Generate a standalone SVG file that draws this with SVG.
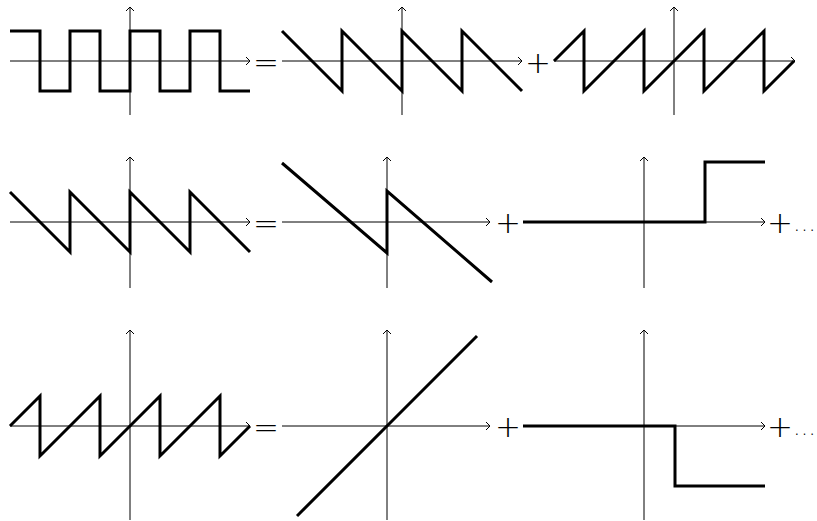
<svg xmlns="http://www.w3.org/2000/svg" width="817" height="521" viewBox="0 0 817 521">
<defs>
<marker id="arr" markerWidth="10" markerHeight="10" refX="0" refY="0" viewBox="-6 -5 8 10" markerUnits="userSpaceOnUse" orient="auto" overflow="visible">
<path d="M-4,-4 L0,0 L-4,4" fill="none" stroke="#000" stroke-width="1"/>
</marker>
</defs>
<style>
.ax{stroke:#000;stroke-width:1;fill:none;marker-end:url(#arr)}
.f{stroke:#000;stroke-width:3;fill:none;stroke-linejoin:miter}
.op{font-family:"DejaVu Sans","Liberation Sans",sans-serif;font-weight:200;font-size:31px;fill:#000;text-anchor:middle}
.dots{font-family:"DejaVu Sans","Liberation Sans",sans-serif;font-weight:200;font-size:23px;fill:#000}
</style>
<rect width="817" height="521" fill="#fff"/>

<g id="r1-square">
<line class="ax" x1="10" y1="61" x2="250" y2="61"/>
<line class="ax" x1="130" y1="115" x2="130" y2="7"/>
<path class="f" d="M10,31 H40 V91 H70 V31 H100 V91 H130 V31 H160 V91 H190 V31 H220 V91 H250"/>
</g>
<g id="r1-sawdown">
<line class="ax" x1="282" y1="61" x2="522" y2="61"/>
<line class="ax" x1="402" y1="115" x2="402" y2="7"/>
<path class="f" d="M282,31 L342,91 V31 L402,91 V31 L462,91 V31 L522,91"/>
</g>
<g id="r1-sawup">
<line class="ax" x1="554" y1="61" x2="795" y2="61"/>
<line class="ax" x1="674" y1="115" x2="674" y2="7"/>
<path class="f" d="M554,61 L584,31 V91 L644,31 V91 L704,31 V91 L764,31 V91 L794,61"/>
</g>

<g id="r2-saw">
<line class="ax" x1="10" y1="222" x2="250" y2="222"/>
<line class="ax" x1="130" y1="288" x2="130" y2="157"/>
<path class="f" d="M10,192 L70,252 V192 L130,252 V192 L190,252 V192 L250,252"/>
</g>
<g id="r2-single">
<line class="ax" x1="282" y1="222" x2="490" y2="222"/>
<line class="ax" x1="387" y1="288" x2="387" y2="157"/>
<path class="f" d="M282,163 L387,253 V191 L492,282"/>
</g>
<g id="r2-step">
<line class="ax" x1="523" y1="222" x2="765" y2="222"/>
<line class="ax" x1="644" y1="288" x2="644" y2="157"/>
<path class="f" d="M523,222 H705 V162 H765"/>
</g>

<g id="r3-saw">
<line class="ax" x1="10" y1="426" x2="250" y2="426"/>
<line class="ax" x1="130" y1="520" x2="130" y2="330"/>
<path class="f" d="M10,426 L40,396 V456 L100,396 V456 L160,396 V456 L220,396 V456 L250,426"/>
</g>
<g id="r3-line">
<line class="ax" x1="282" y1="426" x2="490" y2="426"/>
<line class="ax" x1="387" y1="520" x2="387" y2="330"/>
<path class="f" d="M297,516 L477,336"/>
</g>
<g id="r3-step">
<line class="ax" x1="523" y1="426" x2="765" y2="426"/>
<line class="ax" x1="644" y1="520" x2="644" y2="330"/>
<path class="f" d="M523,426 H675 V486 H765"/>
</g>

<g id="operators">
<text class="op" x="266" y="73">=</text>
<text class="op" x="538" y="73">+</text>
<text class="op" x="266" y="234">=</text>
<text class="op" x="508" y="233">+</text>
<text class="op" x="780" y="233">+</text>
<text class="dots" x="793" y="231">…</text>
<text class="op" x="266" y="438">=</text>
<text class="op" x="508" y="437">+</text>
<text class="op" x="780" y="437">+</text>
<text class="dots" x="793" y="435">…</text>
</g>
</svg>
